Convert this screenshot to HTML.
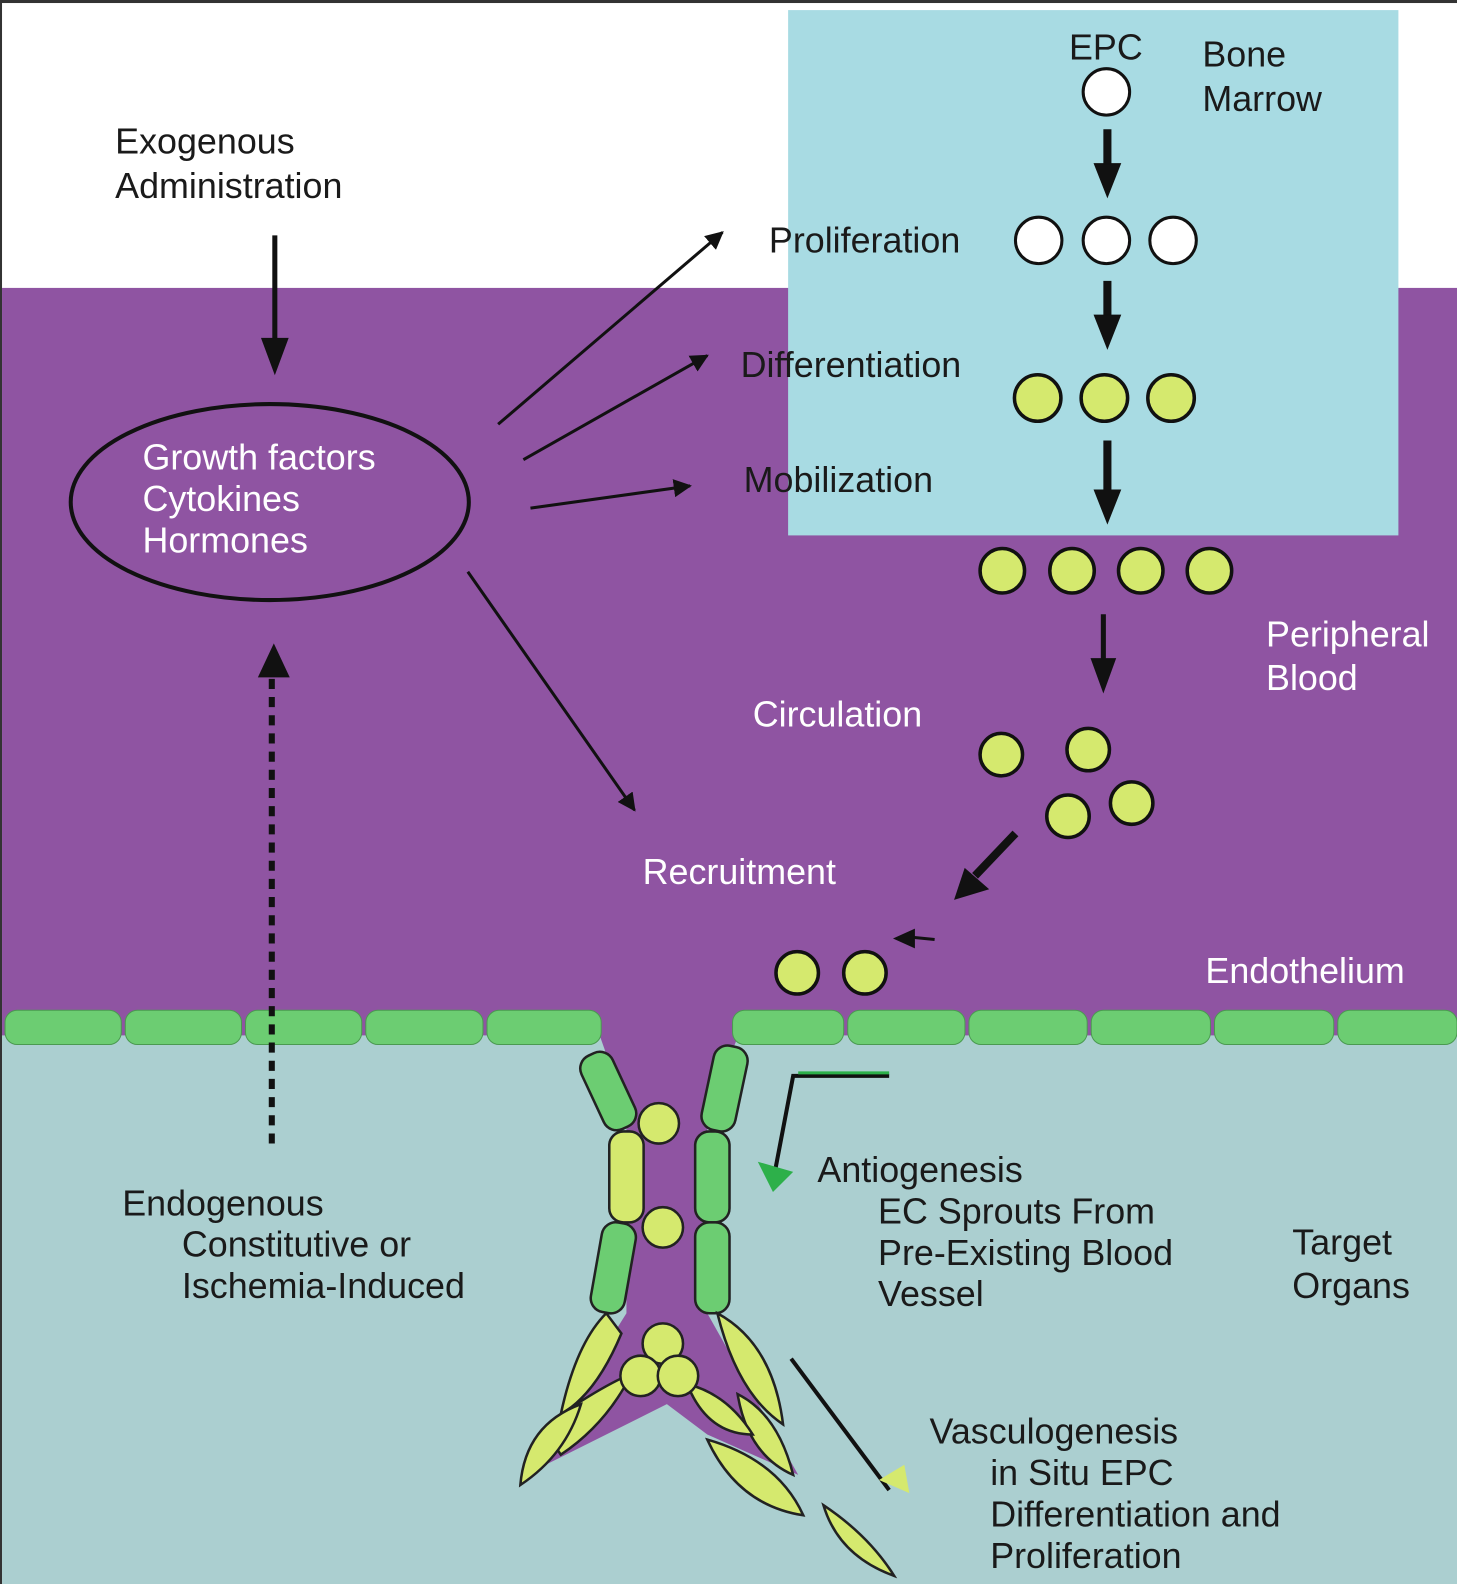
<!DOCTYPE html>
<html><head><meta charset="utf-8"><style>
html,body{margin:0;padding:0;background:#fff}
svg{display:block}
text{font-family:"Liberation Sans",sans-serif;font-size:35.5px}
</style></head><body>
<svg width="1457" height="1584" viewBox="0 0 1442 1568" preserveAspectRatio="none" xmlns="http://www.w3.org/2000/svg">
<defs>
<marker id="ah" viewBox="0 0 10 10" refX="9" refY="5" markerWidth="6" markerHeight="6" orient="auto"><path d="M0,0L10,5L0,10z" fill="#111"/></marker>
</defs>
<rect x="0" y="0" width="1442" height="1568" fill="#fff"/>
<rect x="0" y="0" width="1442" height="3" fill="#333"/>
<rect x="0" y="0" width="2" height="1568" fill="#333"/>
<rect x="2" y="285" width="1440" height="740" fill="#8f54a2"/>
<rect x="2" y="1025" width="1440" height="543" fill="#abcfd0"/>
<rect x="780" y="10" width="604" height="520" fill="#a8dbe3"/>
<path d="M590,1015 L735,1015 L700,1100 L700,1300 L790,1460 L700,1420 L660,1390 L600,1420 L520,1460 L620,1300 L620,1100 Z" fill="#8f54a2"/>
<g fill="#6ccd72" stroke="#4a9a50" stroke-width="1">
<rect x="5" y="1000" width="115" height="34" rx="12"/>
<rect x="124" y="1000" width="115" height="34" rx="12"/>
<rect x="243" y="1000" width="115" height="34" rx="12"/>
<rect x="362" y="1000" width="116" height="34" rx="12"/>
<rect x="482" y="1000" width="113" height="34" rx="12"/>
<rect x="725" y="1000" width="110" height="34" rx="12"/>
<rect x="839" y="1000" width="116" height="34" rx="12"/>
<rect x="959" y="1000" width="117" height="34" rx="12"/>
<rect x="1080" y="1000" width="118" height="34" rx="12"/>
<rect x="1202" y="1000" width="118" height="34" rx="12"/>
<rect x="1324" y="1000" width="118" height="34" rx="12"/>
</g>
<g stroke="#222" stroke-width="2.5">
<rect x="585" y="1040" width="34" height="80" rx="14" fill="#6ccd72" transform="rotate(-25 602 1080)"/>
<rect x="700" y="1035" width="34" height="85" rx="14" fill="#6ccd72" transform="rotate(12 717 1078)"/>
<rect x="603" y="1120" width="34" height="90" rx="14" fill="#d5e96e"/>
<rect x="688" y="1120" width="34" height="90" rx="14" fill="#6ccd72"/>
<rect x="590" y="1210" width="34" height="90" rx="14" fill="#6ccd72" transform="rotate(10 607 1255)"/>
<rect x="688" y="1210" width="34" height="90" rx="14" fill="#6ccd72"/>
<g fill="#d5e96e">
<path d="M600,1300 Q570,1330 555,1400 Q590,1380 615,1320Z"/>
<path d="M555,1400 Q600,1370 625,1360 Q600,1410 555,1440 Q540,1420 555,1400Z"/>
<path d="M515,1470 Q520,1410 575,1390 Q560,1440 515,1470Z"/>
<path d="M710,1300 Q765,1330 775,1410 Q730,1380 710,1300Z"/>
<path d="M730,1380 Q770,1400 785,1460 Q740,1440 730,1380Z"/>
<path d="M700,1425 Q770,1445 795,1500 Q730,1490 700,1425Z"/>
<path d="M680,1370 Q720,1380 745,1420 Q700,1420 680,1370Z"/>
<path d="M815,1490 Q860,1520 885,1560 Q830,1540 815,1490Z"/>
<circle cx="656" cy="1330" r="20"/>
<circle cx="634" cy="1362" r="20"/>
<circle cx="671" cy="1362" r="20"/>
<circle cx="652" cy="1112" r="20"/>
<circle cx="656" cy="1215" r="20"/>
</g>
</g>
<g stroke="#111" stroke-width="3" fill="#fff">
<circle cx="1095" cy="91" r="23"/>
<circle cx="1028" cy="238" r="23"/><circle cx="1095" cy="238" r="23"/><circle cx="1161" cy="238" r="23"/>
</g>
<g stroke="#111" stroke-width="3.5" fill="#d5e96e">
<circle cx="1027" cy="394" r="23"/><circle cx="1093" cy="394" r="23"/><circle cx="1159" cy="394" r="23"/>
<circle cx="992" cy="565" r="22"/><circle cx="1061" cy="565" r="22"/><circle cx="1129" cy="565" r="22"/><circle cx="1197" cy="565" r="22"/>
<circle cx="991" cy="747" r="21"/><circle cx="1077" cy="742" r="21"/><circle cx="1057" cy="808" r="21"/><circle cx="1120" cy="795" r="21"/>
<circle cx="789" cy="963" r="21"/><circle cx="856" cy="963" r="21"/>
</g>
<g fill="#111" stroke="#111">
<line x1="1096" y1="128" x2="1096" y2="165" stroke-width="8"/><path d="M1083,162 L1109,162 L1096,195Z"/>
<line x1="1096" y1="278" x2="1096" y2="315" stroke-width="8"/><path d="M1083,312 L1109,312 L1096,345Z"/>
<line x1="1096" y1="436" x2="1096" y2="488" stroke-width="8"/><path d="M1083,485 L1109,485 L1096,518Z"/>
<line x1="1092" y1="608" x2="1092" y2="655" stroke-width="5"/><path d="M1080,652 L1104,652 L1092,685Z"/>
<line x1="1005" y1="825" x2="965" y2="867" stroke-width="8"/><path d="M955,860 L978,880 L945,890Z"/>
<line x1="925" y1="930" x2="905" y2="928" stroke-width="3"/><path d="M905,920 L905,938 L885,929Z"/>
<line x1="272" y1="233" x2="272" y2="340" stroke-width="5"/><path d="M259,335 L285,335 L272,370Z"/>
<path d="M256,670 L286,670 L271,638Z"/>
</g>
<line x1="269" y1="672" x2="269" y2="1140" stroke="#111" stroke-width="6" stroke-dasharray="10,8"/>
<g stroke="#111" stroke-width="3" marker-end="url(#ah)">
<line x1="493" y1="420" x2="715" y2="230"/>
<line x1="518" y1="455" x2="700" y2="352"/>
<line x1="525" y1="503" x2="683" y2="481"/>
<line x1="463" y1="566" x2="628" y2="802"/>
</g>
<path d="M880,1065 L785,1065 L765,1170" fill="none" stroke="#111" stroke-width="4"/>
<path d="M880,1062 L790,1062" stroke="#2db04a" stroke-width="3"/>
<path d="M750,1150 L785,1160 L765,1180Z" fill="#2db04a"/>
<line x1="783" y1="1345" x2="880" y2="1475" stroke="#111" stroke-width="4"/>
<path d="M870,1465 L900,1478 L895,1450Z" fill="#d5e96e"/>
<g fill="#1a1a1a">
<text x="114" y="152">Exogenous</text>
<text x="114" y="196">Administration</text>
<text x="1058" y="59">EPC</text>
<text x="1190" y="66">Bone</text>
<text x="1190" y="110">Marrow</text>
<text x="761" y="250">Proliferation</text>
<text x="733" y="373">Differentiation</text>
<text x="736" y="487">Mobilization</text>
<text x="809" y="1170">Antiogenesis</text>
<text x="869" y="1211">EC Sprouts From</text>
<text x="869" y="1252">Pre-Existing Blood</text>
<text x="869" y="1293">Vessel</text>
<text x="1279" y="1242">Target</text>
<text x="1279" y="1285">Organs</text>
<text x="121" y="1203">Endogenous</text>
<text x="180" y="1244">Constitutive or</text>
<text x="180" y="1285">Ischemia-Induced</text>
<text x="920" y="1429">Vasculogenesis</text>
<text x="980" y="1470">in Situ EPC</text>
<text x="980" y="1511">Differentiation and</text>
<text x="980" y="1552">Proliferation</text>
</g>
<ellipse cx="267" cy="497" rx="197" ry="97" fill="none" stroke="#111" stroke-width="4"/>
<g fill="#fff">
<text x="141" y="465">Growth factors</text>
<text x="141" y="506">Cytokines</text>
<text x="141" y="547">Hormones</text>
<text x="1253" y="640">Peripheral</text>
<text x="1253" y="683">Blood</text>
<text x="745" y="719">Circulation</text>
<text x="636" y="875">Recruitment</text>
<text x="1193" y="973">Endothelium</text>
</g>
</svg>
</body></html>
